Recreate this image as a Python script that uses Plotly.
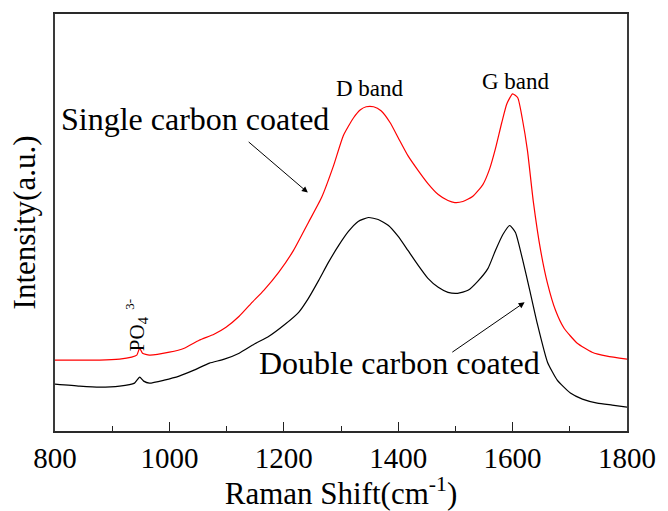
import plotly.graph_objects as go

# Raman shift (cm^-1) and intensity (a.u.)
single_x = [800, 843, 878, 913, 934, 943, 948, 953, 965, 1000, 1026, 1052, 1078, 1099, 1122,
            1143, 1165, 1191, 1217, 1243, 1266, 1287, 1304, 1322, 1334, 1344, 1357, 1370, 1386,
            1400, 1417, 1435, 1452, 1470, 1487, 1499, 1513, 1530, 1548, 1560, 1570, 1581, 1590,
            1600, 1609, 1617, 1626, 1636, 1649, 1661, 1675, 1690, 1713, 1739, 1765, 1800]
single_y = [71, 71, 71, 72, 74, 76, 83, 78, 76, 79, 83, 91, 97, 104, 115,
            128, 141, 159, 181, 209, 234, 266, 296, 314, 322, 325, 325, 321, 309,
            294, 276, 261, 248, 237, 231, 229, 230, 235, 247, 263, 283, 309, 328,
            338, 334, 313, 281, 231, 181, 148, 121, 103, 88, 79, 75, 72]

double_x = [800, 843, 878, 913, 939, 948, 955, 965, 991, 1017, 1043, 1070, 1096, 1122, 1148,
            1174, 1200, 1226, 1243, 1261, 1278, 1296, 1313, 1330, 1348, 1365, 1383, 1400, 1417,
            1435, 1452, 1470, 1487, 1504, 1522, 1539, 1557, 1570, 1583, 1595, 1605, 1617, 1630,
            1643, 1661, 1678, 1701, 1722, 1748, 1774, 1800]
double_y = [47, 45, 44, 45, 48, 54, 50, 48, 51, 55, 61, 68, 72, 78, 87,
            95, 106, 119, 133, 151, 169, 186, 200, 210, 214, 212, 206, 195, 181,
            166, 153, 144, 139, 138, 141, 150, 163, 181, 197, 206, 199, 173, 141,
            108, 69, 51, 38, 32, 28, 26, 24]

x_ticks = [800, 1000, 1200, 1400, 1600, 1800]

FONT = "Liberation Serif"

fig = go.Figure()
fig.add_trace(go.Scatter(x=single_x, y=single_y, mode="lines",
                         line=dict(color="#ff0000", width=1.2, shape="spline", smoothing=0.5),
                         showlegend=False))
fig.add_trace(go.Scatter(x=double_x, y=double_y, mode="lines",
                         line=dict(color="#000000", width=1.2, shape="spline", smoothing=0.5),
                         showlegend=False))

ann_font = dict(family=FONT, color="black")
fig.add_annotation(x=1350, y=343, text="D band", showarrow=False,
                   font=dict(size=23, **ann_font))
fig.add_annotation(x=1606, y=350, text="G band", showarrow=False,
                   font=dict(size=23, **ann_font))
fig.add_annotation(x=1045, y=313, text="Single carbon coated", showarrow=False,
                   font=dict(size=32, **ann_font))
fig.add_annotation(x=1402, y=68, text="Double carbon coated", showarrow=False,
                   font=dict(size=32, **ann_font))
fig.add_annotation(x=1242, y=239, ax=1136, ay=291, xref="x", yref="y", axref="x", ayref="y",
                   text="", showarrow=True, arrowhead=2, arrowsize=1.2, arrowwidth=1,
                   arrowcolor="black")
fig.add_annotation(x=1621, y=129, ax=1492, ay=78, xref="x", yref="y", axref="x", ayref="y",
                   text="", showarrow=True, arrowhead=2, arrowsize=1.2, arrowwidth=1,
                   arrowcolor="black")
fig.add_annotation(x=945, y=98, text="PO<sub>4</sub>", textangle=-90, showarrow=False,
                   font=dict(size=21, **ann_font))
fig.add_annotation(x=930, y=127, text="3-", textangle=-90, showarrow=False,
                   font=dict(size=13, **ann_font))

fig.update_xaxes(range=[800, 1800], tickvals=x_ticks, ticktext=[str(v) for v in x_ticks],
                 ticks="inside", ticklen=9, tickwidth=1.2, tickcolor="#222",
                 minor=dict(dtick=100, ticks="inside", ticklen=5, tickwidth=1.2, tickcolor="#222"),
                 showline=True, linecolor="#2a2a2a", linewidth=2, mirror=True,
                 showgrid=False, zeroline=False,
                 tickfont=dict(family=FONT, size=29, color="black"),
                 title=dict(text="Raman Shift(cm<sup>-1</sup>)",
                            font=dict(family=FONT, size=31, color="black"), standoff=4))
fig.update_yaxes(range=[0, 418], showticklabels=False, ticks="",
                 showline=True, linecolor="#3a3a3a", linewidth=2, mirror=True,
                 showgrid=False, zeroline=False,
                 title=dict(text="Intensity(a.u.)",
                            font=dict(family=FONT, size=31, color="black"), standoff=8))

fig.update_layout(width=668, height=511, margin=dict(l=55, r=38, t=13, b=80),
                  plot_bgcolor="white", paper_bgcolor="white")

fig.write_html("out.html")
